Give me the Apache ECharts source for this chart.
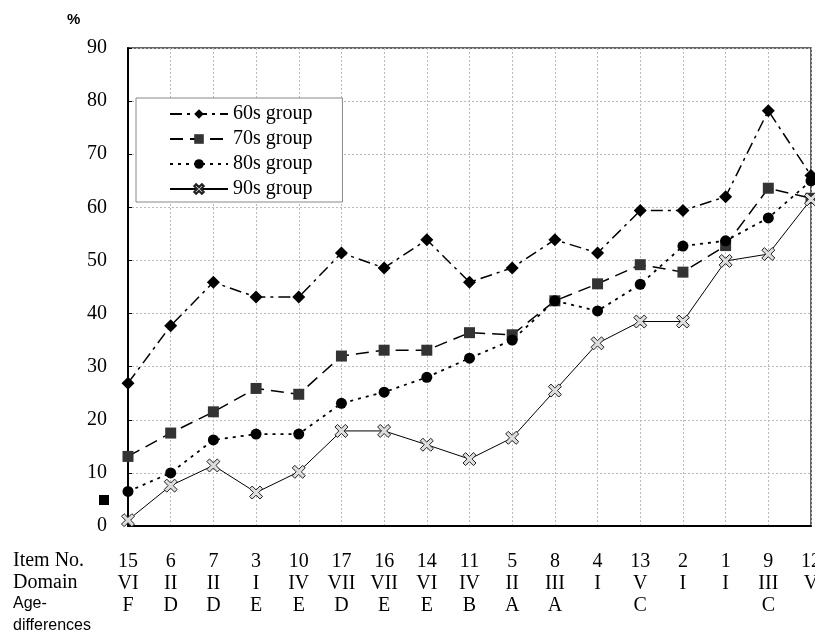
<!DOCTYPE html>
<html><head><meta charset="utf-8">
<script src="https://cdn.jsdelivr.net/npm/echarts@6/dist/echarts.min.js"></script>
<style>html,body{margin:0;padding:0;background:#fff}#c{width:815px;height:639px}</style>
</head><body><div id="c"></div>
<script>
var itemNo = ['15','6','7','3','10','17','16','14','11','5','8','4','13','2','1','9','12'];
var domain = ['VI','II','II','I','IV','VII','VII','VI','IV','II','III','I','V','I','I','III','V'];
var ageDiff = ['F','D','D','E','E','D','E','E','B','A','A','','C','','','C',''];
var yTicks = [0,10,20,30,40,50,60,70,80,90];
var g60 = [26.9, 37.7, 45.9, 43.1, 43.1, 51.4, 48.6, 53.9, 45.9, 48.6, 53.9, 51.4, 59.4, 59.4, 62.0, 78.2, 66.0];
var g70 = [13.1, 17.5, 21.5, 25.9, 24.8, 32.0, 33.1, 33.1, 36.4, 36.0, 42.4, 45.6, 49.2, 47.8, 52.8, 63.6, 61.7];
var g80 = [6.5, 10.0, 16.2, 17.3, 17.3, 23.1, 25.2, 28.0, 31.6, 35.0, 42.4, 40.5, 45.5, 52.7, 53.7, 58.0, 65.0];
var g90 = [1.1, 7.6, 11.4, 6.3, 10.2, 17.9, 17.9, 15.3, 12.6, 16.6, 25.5, 34.4, 38.5, 38.5, 49.9, 51.2, 61.5];
var seriesNames = ['60s group','70s group','80s group','90s group'];

var serif = 'Liberation Serif';
var xPath = 'path://M0,2 L2,0 L5,3 L8,0 L10,2 L7,5 L10,8 L8,10 L5,7 L2,10 L0,8 L3,5 Z';

var chart = echarts.init(document.getElementById('c'));
chart.setOption({
  backgroundColor: '#fff',
  animation: false,
  grid: { left: 128, top: 48, right: 4, bottom: 113, containLabel: false, outerBoundsMode: 'none',
          show: true, borderColor: '#333', borderWidth: 1.5 },
  legend: {
    orient: 'vertical', left: 136, top: 98,
    data: seriesNames,
    itemWidth: 58, itemHeight: 12, itemGap: 5,
    padding: [6, 30, 3, 33],
    backgroundColor: '#fff', borderColor: '#888', borderWidth: 1,
    textStyle: { fontFamily: serif, fontSize: 20, color: '#000', padding: [0,0,0,0] }
  },
  xAxis: {
    type: 'category', boundaryGap: false, data: itemNo,
    axisLine: { lineStyle: { color: '#000', width: 2 } },
    axisTick: { show: false },
    splitLine: { show: true, lineStyle: { color: '#bbb', type: [2, 2], width: 1 } },
    axisLabel: {
      interval: 0, margin: 25, color: '#000', fontFamily: serif, fontSize: 20, lineHeight: 22,
      hideOverlap: false,
      formatter: function (v, i) { return v + '\n' + domain[i] + '\n' + (ageDiff[i] || ' '); }
    }
  },
  yAxis: {
    type: 'value', min: yTicks[0], max: yTicks[yTicks.length - 1], interval: 10,
    axisLine: { show: true, lineStyle: { color: '#000', width: 2 } },
    axisTick: { show: true, inside: true, length: 4, lineStyle: { color: '#000' } },
    splitLine: { show: true, lineStyle: { color: '#bbb', type: [2, 2], width: 1 } },
    axisLabel: { margin: 21, color: '#000', fontFamily: serif, fontSize: 20 }
  },
  series: [
    { name: seriesNames[0], type: 'line', data: g60, symbol: 'diamond', symbolSize: 13,
      lineStyle: { color: '#000', width: 1.5, type: [12, 5, 3, 5] },
      itemStyle: { color: '#000' } },
    { name: seriesNames[1], type: 'line', data: g70, symbol: 'rect', symbolSize: 11,
      lineStyle: { color: '#000', width: 1.5, type: [13, 7] },
      itemStyle: { color: '#333' } },
    { name: seriesNames[2], type: 'line', data: g80, symbol: 'circle', symbolSize: 11,
      lineStyle: { color: '#000', width: 1.8, type: [3, 5] },
      itemStyle: { color: '#000' } },
    { name: seriesNames[3], type: 'line', data: g90, symbol: xPath, symbolSize: 13,
      lineStyle: { color: '#000', width: 1, type: 'solid' },
      itemStyle: { color: '#ddd', borderColor: '#222', borderWidth: 1 } }
  ],
  graphic: [
    { type: 'text', left: 67, top: 12, style: { text: '%', font: 'bold 15px "Liberation Sans"', fill: '#000' } },
    { type: 'rect', left: 99, top: 495, shape: { width: 10, height: 10 }, style: { fill: '#000' } },
    { type: 'text', left: 13, top: 551, style: { text: 'Item No.', font: '20px "Liberation Serif"', fill: '#000' } },
    { type: 'text', left: 13, top: 573, style: { text: 'Domain', font: '20px "Liberation Serif"', fill: '#000' } },
    { type: 'text', left: 13, top: 596, style: { text: 'Age-', font: '16px "Liberation Sans"', fill: '#000' } },
    { type: 'text', left: 13, top: 618, style: { text: 'differences', font: '16px "Liberation Sans"', fill: '#000' } }
  ]
});
</script></body></html>
